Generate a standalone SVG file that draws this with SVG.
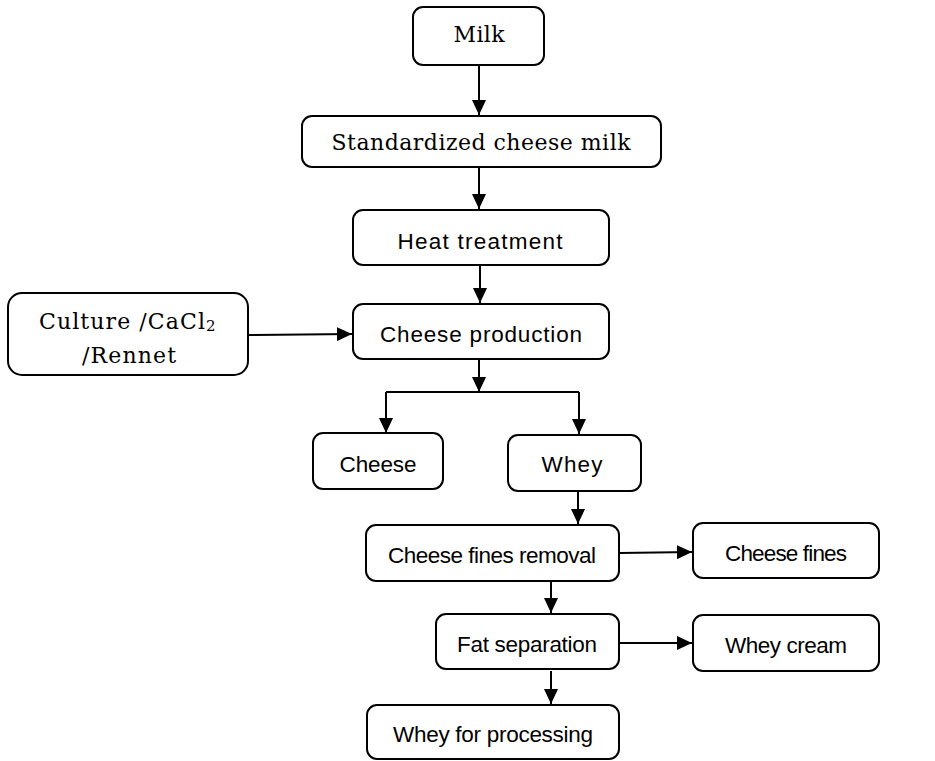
<svg xmlns="http://www.w3.org/2000/svg" width="935" height="761" viewBox="0 0 935 761">
<style>
.box{fill:#fff;stroke:#000;stroke-width:2}
.sans{font-family:"Liberation Sans",Arial,sans-serif;font-size:22.5px;fill:#000;text-anchor:middle}
.serif{font-family:"DejaVu Serif","Liberation Serif",serif;font-size:22px;fill:#000;text-anchor:middle}
.con{fill:none;stroke:#000;stroke-width:2}
</style>
<defs>
<marker id="ah" markerUnits="userSpaceOnUse" markerWidth="15" markerHeight="14" refX="15" refY="7" orient="auto">
<path d="M0,0 L15,7 L0,14 z" fill="#000"/>
</marker>
</defs>
<rect width="935" height="761" fill="#fff"/>
<g id="connectors">
<path class="con" d="M479,66 L479,115" marker-end="url(#ah)"/>
<path class="con" d="M479,168 L479,209" marker-end="url(#ah)"/>
<path class="con" d="M480,266 L480,303" marker-end="url(#ah)"/>
<path class="con" d="M249,335 L352,334" marker-end="url(#ah)"/>
<path class="con" d="M479,360 L479,392" marker-end="url(#ah)"/>
<path class="con" d="M386,392 L579,392"/>
<path class="con" d="M386,392 L386,433" marker-end="url(#ah)"/>
<path class="con" d="M579,392 L579,434" marker-end="url(#ah)"/>
<path class="con" d="M578,492 L578,524" marker-end="url(#ah)"/>
<path class="con" d="M620,553 L692,552" marker-end="url(#ah)"/>
<path class="con" d="M551,582 L551,613" marker-end="url(#ah)"/>
<path class="con" d="M620,643 L692,643" marker-end="url(#ah)"/>
<path class="con" d="M551,671 L551,704" marker-end="url(#ah)"/>
</g>
<g id="milk"><rect class="box" x="413" y="7" width="131" height="58" rx="10"/><text class="serif" x="479" y="42" textLength="51">Milk</text></g>
<g id="std"><rect class="box" x="302" y="116" width="359" height="51" rx="10"/><text class="serif" x="481" y="150" textLength="299">Standardized cheese milk</text></g>
<g id="heat"><rect class="box" x="353" y="210" width="256" height="55" rx="10"/><text class="sans" x="480" y="249" textLength="165">Heat treatment</text></g>
<g id="culture"><rect class="box" x="8" y="293" width="240" height="82" rx="14"/><text class="serif" x="39" y="329" style="text-anchor:start" textLength="166">Culture /CaCl</text><text class="serif" x="206" y="331" style="text-anchor:start;font-size:15px">2</text><text class="serif" x="129" y="363" textLength="94">/Rennet</text></g>
<g id="cheeseprod"><rect class="box" x="353" y="304" width="256" height="55" rx="10"/><text class="sans" x="481" y="342" textLength="202">Cheese production</text></g>
<g id="cheese"><rect class="box" x="313" y="433" width="130" height="56" rx="10"/><text class="sans" x="378" y="472" textLength="77">Cheese</text></g>
<g id="whey"><rect class="box" x="508" y="435" width="133" height="56" rx="10"/><text class="sans" x="572" y="472" textLength="61">Whey</text></g>
<g id="cfr"><rect class="box" x="366" y="525" width="253" height="56" rx="10"/><text class="sans" x="492" y="563" textLength="208">Cheese fines removal</text></g>
<g id="cfines"><rect class="box" x="693" y="523" width="186" height="55" rx="10"/><text class="sans" x="786" y="561" textLength="122">Cheese fines</text></g>
<g id="fat"><rect class="box" x="436" y="614" width="183" height="55" rx="10"/><text class="sans" x="527" y="652" textLength="140">Fat separation</text></g>
<g id="wcream"><rect class="box" x="693" y="615" width="186" height="56" rx="10"/><text class="sans" x="786" y="653" textLength="122">Whey cream</text></g>
<g id="wfp"><rect class="box" x="367" y="705" width="252" height="54" rx="10"/><text class="sans" x="493" y="742" textLength="200">Whey for processing</text></g>
</svg>
